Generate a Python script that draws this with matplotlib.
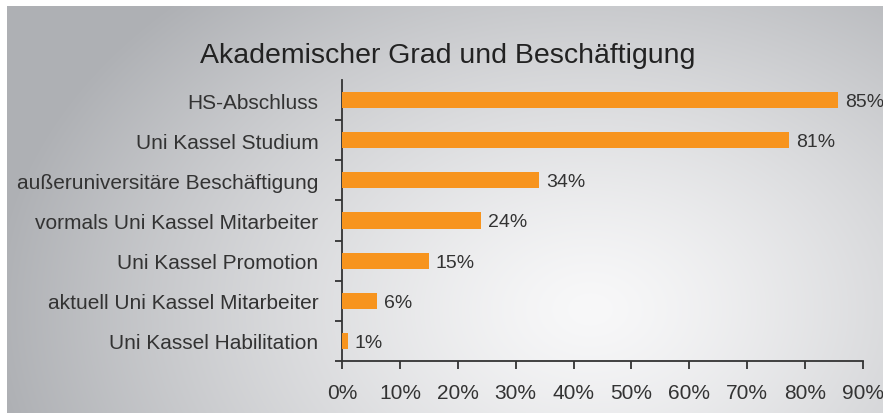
import numpy as np
import matplotlib
matplotlib.use("Agg")
import matplotlib.pyplot as plt
from matplotlib.ticker import FixedLocator, FuncFormatter

categories = [
    "HS-Abschluss",
    "Uni Kassel Studium",
    "außeruniversitäre Beschäftigung",
    "vormals Uni Kassel Mitarbeiter",
    "Uni Kassel Promotion",
    "aktuell Uni Kassel Mitarbeiter",
    "Uni Kassel Habilitation",
]
bar_values = [85.7, 77.3, 34, 24, 15, 6, 1]
value_labels = ["85%", "81%", "34%", "24%", "15%", "6%", "1%"]
x_ticks = [0, 10, 20, 30, 40, 50, 60, 70, 80, 90]
title = "Akademischer Grad und Beschäftigung"

TEXT = "#333333"
BAR = "#F7941E"
plt.rcParams['font.family'] = ['Liberation Sans', 'DejaVu Sans']

W, H = 883, 414
fig = plt.figure(figsize=(W / 100, H / 100), dpi=100)
fig.patch.set_facecolor("white")

# background radial gradient panel
bg = fig.add_axes([7 / W, 0, 1 - 7 / W, 1 - 7 / H])
bg.set_axis_off()
nx, ny = W - 7, H - 7
xx, yy = np.meshgrid(np.arange(nx) + 7, np.arange(ny) + 7)
cx, cy, rx, ry = 590, 310, 600, 430
t = np.sqrt(((xx - cx) / rx) ** 2 + ((yy - cy) / ry) ** 2)
t = np.clip(t, 0, 1) ** 1.3
c0 = np.array([0xF8, 0xF8, 0xF9]) / 255
c1 = np.array([0xAE, 0xB0, 0xB4]) / 255
img = c0[None, None, :] * (1 - t[..., None]) + c1[None, None, :] * t[..., None]
bg.imshow(img, aspect="auto", extent=[0, 1, 0, 1], origin="upper")
bg.set_xlim(0, 1)
bg.set_ylim(0, 1)

ax = fig.add_axes([342 / W, 1 - 362 / H, (863 - 342) / W, (362 - 81) / H])
ax.patch.set_alpha(0)
y = np.arange(len(categories))
ax.barh(y, bar_values, height=0.4, color=BAR, zorder=3)
ax.set_ylim(len(categories) - 0.5, -0.5)
ax.set_xlim(0, 90)

for spine in ["top", "right"]:
    ax.spines[spine].set_visible(False)
for spine in ["left", "bottom"]:
    ax.spines[spine].set_color(TEXT)
    ax.spines[spine].set_linewidth(1.3)

ax.set_yticks(y)
ax.set_yticklabels(categories)
ax.yaxis.set_minor_locator(FixedLocator(np.arange(len(categories)) + 0.5))
ax.tick_params(axis="y", which="major", length=0, pad=17, labelsize=15, labelcolor=TEXT)
ax.tick_params(axis="y", which="minor", length=5, width=1.3, color=TEXT, direction="out")

ax.set_xticks(x_ticks)
ax.xaxis.set_major_formatter(FuncFormatter(lambda v, p: f"{int(v)}%"))
ax.tick_params(axis="x", which="major", length=6, width=1.3, color=TEXT, pad=10,
               labelsize=15, labelcolor=TEXT)

for yi, v, lab in zip(y, bar_values, value_labels):
    ax.annotate(lab, xy=(v, yi), xytext=(5, -1), textcoords="offset points",
                va="center", ha="left", fontsize=14, color=TEXT)

fig.text(448 / W, 1 - 63 / H, title, ha="center", va="baseline", fontsize=20.5, color="#222222")

fig.savefig("out.png", dpi=100)
